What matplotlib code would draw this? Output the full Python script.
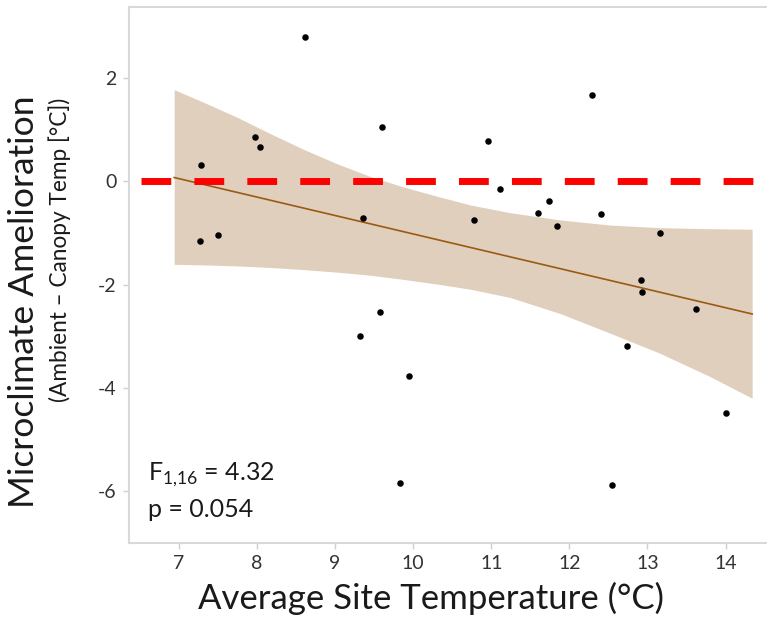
import matplotlib
matplotlib.use('Agg')
import matplotlib.pyplot as plt

plt.rcParams['font.family'] = ['Lato', 'DejaVu Sans']
plt.rcParams['mathtext.fontset'] = 'custom'
plt.rcParams['mathtext.rm'] = 'Lato'

# site points
site_temp = [8.62, 9.60, 7.97, 8.04, 7.29, 7.27, 7.50, 9.36, 9.57,
             12.29, 10.96, 11.11, 11.74, 11.60, 12.41, 10.78, 11.84, 13.16,
             12.92, 12.93, 13.62, 9.32, 9.95, 9.83, 12.55, 12.74, 14.00]
amelioration = [2.79, 1.04, 0.86, 0.66, 0.31, -1.15, -1.04, -0.72, -2.54,
                1.67, 0.78, -0.15, -0.39, -0.62, -0.64, -0.75, -0.86, -1.01,
                -1.91, -2.14, -2.48, -3.00, -3.77, -5.84, -5.87, -3.19, -4.48]

# fitted line and confidence band
fit_x = [6.94, 14.34]
fit_y = [0.07, -2.57]
band_x = [6.94, 7.31, 7.74, 8.17, 8.59, 9.02, 9.45, 9.87, 10.30, 10.73,
          11.24, 11.88, 12.52, 13.16, 13.80, 14.34]
band_hi = [1.77, 1.53, 1.24, 0.92, 0.62, 0.34, 0.09, -0.11, -0.29, -0.46,
           -0.61, -0.75, -0.85, -0.90, -0.92, -0.93]
band_lo = [-1.61, -1.62, -1.64, -1.67, -1.71, -1.76, -1.82, -1.90, -1.99, -2.09,
           -2.25, -2.56, -2.94, -3.33, -3.78, -4.20]

ref_x = [6.51, 14.39]
ref_y = [0, 0]

xticks = [7, 8, 9, 10, 11, 12, 13, 14]
yticks = [2, 0, -2, -4, -6]

fig = plt.figure(figsize=(7.67, 6.19), dpi=100)
ax = fig.add_axes([0.168, 0.1228, 0.832, 0.866])

ax.fill_between(band_x, band_lo, band_hi, color='#e0cfbd', lw=0, zorder=1)
ax.plot(fit_x, fit_y, color='#9a5a12', lw=1.2, zorder=2)
ax.plot(ref_x, ref_y, color='#ff0000', lw=5.0, dashes=(4.29, 3.33),
        dash_capstyle='butt', zorder=3)
ax.scatter(site_temp, amelioration, s=22, color='black', lw=0, zorder=4)

ax.set_xlim(6.36, 14.53)
ax.set_ylim(-7.0, 3.37)
ax.set_xticks(xticks)
ax.set_yticks(yticks)
ax.set_yticklabels([str(t) for t in yticks])
ax.tick_params(length=4, width=1, color='#d0d0d0', labelsize=14,
               labelcolor='#333333', pad=5)
for side in ['left', 'bottom', 'top']:
    ax.spines[side].set_color('#d9d9d9')
    ax.spines[side].set_linewidth(1.5)
ax.spines['right'].set_visible(False)

ax.text(0.03, 0.127, 'F$_{\\mathrm{1{,}16}}$ = 4.32', transform=ax.transAxes,
        fontsize=18, va='center', ha='left', color='#1a1a1a')
ax.text(0.03, 0.062, 'p = 0.054', transform=ax.transAxes,
        fontsize=18, va='center', ha='left', color='#1a1a1a')

fig.text(0.562, 0.034, 'Average Site Temperature (°C)', fontsize=25,
         ha='center', va='center', color='#1a1a1a')
fig.text(0.031, 0.512, 'Microclimate Amelioration', fontsize=25.5,
         rotation=90, ha='center', va='center', color='#1a1a1a')
fig.text(0.078, 0.596, '(Ambient – Canopy Temp [°C])', fontsize=16.3,
         rotation=90, ha='center', va='center', color='#1a1a1a')

fig.savefig('out.png', dpi=100)
